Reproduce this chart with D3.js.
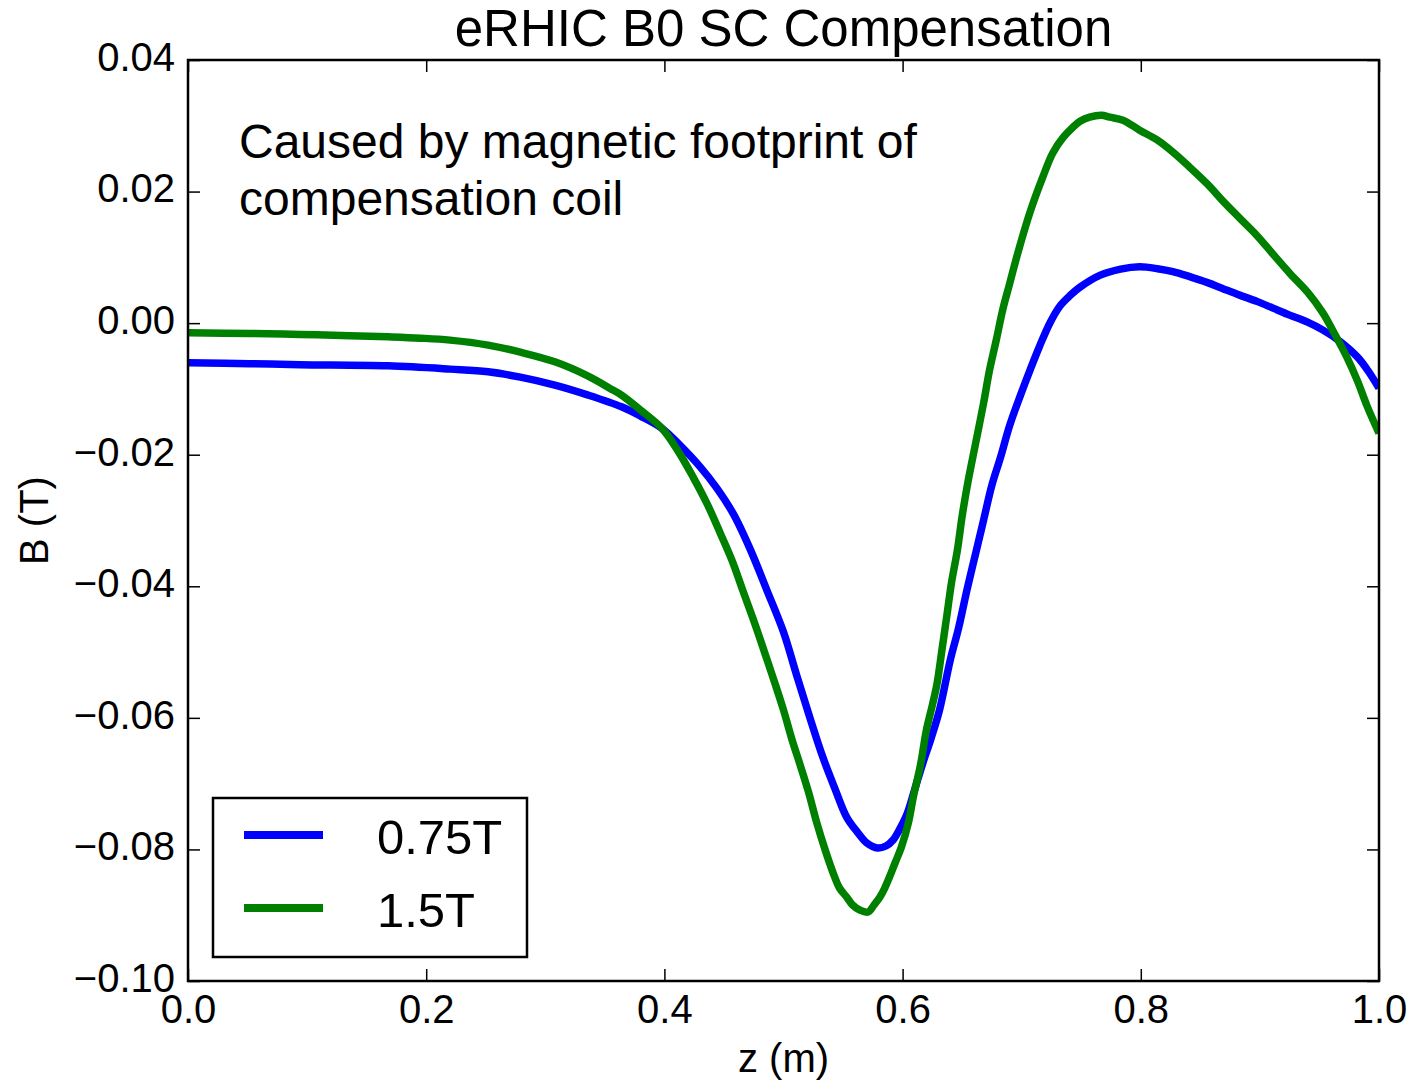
<!DOCTYPE html>
<html>
<head>
<meta charset="utf-8">
<script src="https://cdn.jsdelivr.net/npm/d3@7"></script>
<style>
  html, body { margin: 0; padding: 0; background: #fff; }
  svg { display: block; font-family: "Liberation Sans", Arial, sans-serif; }
</style>
</head>
<body>
<svg id="chart" width="1409" height="1081"></svg>
<script>
// ---- data ----
const chartTitle = "eRHIC B0 SC Compensation";
const xLabel = "z (m)";
const yLabel = "B (T)";
const annotationLines = ["Caused by magnetic footprint of", "compensation coil"];
const seriesNames = ["0.75T", "1.5T"];
const seriesColors = ["#0000ff", "#008000"];
const xTickValues = [0.0, 0.2, 0.4, 0.6, 0.8, 1.0];
const yTickValues = [-0.10, -0.08, -0.06, -0.04, -0.02, 0.00, 0.02, 0.04];

const zBlue = [0.000, 0.052, 0.094, 0.168, 0.220, 0.252, 0.279, 0.308, 0.336, 0.364,
  0.380, 0.398, 0.413, 0.430, 0.444, 0.458, 0.472, 0.486, 0.500, 0.511,
  0.522, 0.533, 0.543, 0.553, 0.562, 0.570, 0.579, 0.586, 0.592, 0.598,
  0.604, 0.610, 0.617, 0.624, 0.631, 0.640, 0.647, 0.654, 0.661, 0.668,
  0.675, 0.682, 0.690, 0.699, 0.707, 0.715, 0.724, 0.732, 0.741, 0.749,
  0.766, 0.783, 0.799, 0.814, 0.827, 0.841, 0.856, 0.869, 0.883, 0.898,
  0.911, 0.925, 0.940, 0.953, 0.967, 0.982, 0.991, 1.000];
const bBlue = [-0.00603, -0.00616, -0.00631, -0.00649, -0.00699, -0.00740, -0.00821, -0.00942, -0.01094, -0.01272,
  -0.01413, -0.01600, -0.01854, -0.02184, -0.02508, -0.02903, -0.03435, -0.04058, -0.04696, -0.05350,
  -0.05988, -0.06596, -0.07067, -0.07508, -0.07736, -0.07903, -0.07979, -0.07948, -0.07857, -0.07675,
  -0.07447, -0.07097, -0.06687, -0.06307, -0.05881, -0.05122, -0.04635, -0.04058, -0.03526, -0.02994,
  -0.02462, -0.02052, -0.01550, -0.01094, -0.00714, -0.00350, 0.00015, 0.00258, 0.00426, 0.00547,
  0.00729, 0.00821, 0.00856, 0.00828, 0.00783, 0.00707, 0.00616, 0.00524, 0.00426, 0.00327,
  0.00228, 0.00122, 0.00015, -0.00106, -0.00274, -0.00517, -0.00729, -0.00988];

const zGreen = [0.000, 0.052, 0.094, 0.136, 0.168, 0.195, 0.220, 0.252, 0.279, 0.308,
  0.336, 0.354, 0.364, 0.380, 0.398, 0.411, 0.424, 0.436, 0.447, 0.457,
  0.466, 0.476, 0.486, 0.493, 0.500, 0.507, 0.514, 0.521, 0.528, 0.535,
  0.542, 0.547, 0.553, 0.558, 0.564, 0.571, 0.576, 0.581, 0.585, 0.589,
  0.594, 0.599, 0.605, 0.609, 0.615, 0.620, 0.625, 0.629, 0.633, 0.637,
  0.641, 0.646, 0.650, 0.655, 0.661, 0.668, 0.673, 0.679, 0.684, 0.690,
  0.696, 0.707, 0.718, 0.726, 0.735, 0.743, 0.749, 0.757, 0.767, 0.774,
  0.785, 0.799, 0.814, 0.827, 0.841, 0.856, 0.869, 0.883, 0.898, 0.911,
  0.925, 0.940, 0.953, 0.961, 0.973, 0.982, 0.990, 1.000];
const bGreen = [-0.00147, -0.00157, -0.00172, -0.00190, -0.00208, -0.00228, -0.00258, -0.00334, -0.00441, -0.00588,
  -0.00805, -0.00988, -0.01094, -0.01322, -0.01600, -0.01930, -0.02336, -0.02751, -0.03196, -0.03617,
  -0.04073, -0.04574, -0.05106, -0.05486, -0.05881, -0.06322, -0.06717, -0.07128, -0.07599, -0.08009,
  -0.08374, -0.08587, -0.08723, -0.08845, -0.08921, -0.08951, -0.08845, -0.08723, -0.08587, -0.08419,
  -0.08191, -0.07964, -0.07584, -0.07204, -0.06717, -0.06185, -0.05805, -0.05471, -0.04970, -0.04468,
  -0.03951, -0.03450, -0.02933, -0.02401, -0.01854, -0.01216, -0.00714, -0.00228, 0.00198, 0.00608,
  0.01018, 0.01687, 0.02234, 0.02584, 0.02827, 0.02979, 0.03070, 0.03131, 0.03161, 0.03131,
  0.03085, 0.02933, 0.02781, 0.02599, 0.02371, 0.02112, 0.01854, 0.01596, 0.01322, 0.01049,
  0.00760, 0.00471, 0.00152, -0.00106, -0.00517, -0.00881, -0.01261, -0.01672];

// ---- layout ----
const plot = { left: 188, top: 60, right: 1379, bottom: 981 };
const svg = d3.select("#chart");

const x = d3.scaleLinear().domain([0, 1]).range([plot.left, plot.right]);
const y = d3.scaleLinear().domain([-0.10, 0.04]).range([plot.bottom, plot.top]);

const fmtY = v => d3.format(".2f")(v).replace("-", "\u2212");
const fmtX = v => d3.format(".1f")(v);

svg.append("defs").append("clipPath").attr("id", "clip")
  .append("rect")
  .attr("x", plot.left).attr("y", plot.top)
  .attr("width", plot.right - plot.left).attr("height", plot.bottom - plot.top);

// series lines
const series = [
  { name: seriesNames[0], color: seriesColors[0], z: zBlue, b: bBlue },
  { name: seriesNames[1], color: seriesColors[1], z: zGreen, b: bGreen }
];
const line = d3.line().x(d => x(d[0])).y(d => y(d[1])).curve(d3.curveCatmullRom.alpha(0.5));
const gLines = svg.append("g").attr("clip-path", "url(#clip)");
series.forEach(s => {
  gLines.append("path")
    .datum(d3.zip(s.z, s.b))
    .attr("fill", "none")
    .attr("stroke", s.color)
    .attr("stroke-width", 7.5)
    .attr("stroke-linejoin", "round")
    .attr("stroke-linecap", "butt")
    .attr("d", line);
});

// axes (inward ticks on all sides)
const tickLen = 12;
const axB = d3.axisBottom(x).tickValues(xTickValues).tickSizeInner(-tickLen).tickSizeOuter(0).tickFormat(fmtX).tickPadding(14);
const axT = d3.axisTop(x).tickValues(xTickValues).tickSizeInner(-tickLen).tickSizeOuter(0).tickFormat("");
const axL = d3.axisLeft(y).tickValues(yTickValues).tickSizeInner(-tickLen).tickSizeOuter(0).tickFormat(fmtY).tickPadding(13);
const axR = d3.axisRight(y).tickValues(yTickValues).tickSizeInner(-tickLen).tickSizeOuter(0).tickFormat("");

function styleAxis(g) {
  g.select(".domain").remove();
  g.selectAll(".tick line").attr("stroke", "#000").attr("stroke-width", 1.5);
  g.selectAll(".tick text")
    .attr("fill", "#000")
    .style("font-family", "'Liberation Sans', Arial, sans-serif")
    .style("font-size", "40px");
}
svg.append("g").attr("transform", `translate(0,${plot.bottom})`).call(axB).call(styleAxis)
  .selectAll(".tick text").attr("dy", "0.71em");
svg.append("g").attr("transform", `translate(0,${plot.top})`).call(axT).call(styleAxis);
svg.append("g").attr("transform", `translate(${plot.left},0)`).call(axL).call(styleAxis)
  .selectAll(".tick text").attr("dy", "0.26em");
svg.append("g").attr("transform", `translate(${plot.right},0)`).call(axR).call(styleAxis);

// frame
svg.append("rect")
  .attr("x", plot.left).attr("y", plot.top)
  .attr("width", plot.right - plot.left).attr("height", plot.bottom - plot.top)
  .attr("fill", "none").attr("stroke", "#000").attr("stroke-width", 2.5);

// title
svg.append("text")
  .attr("x", (plot.left + plot.right) / 2).attr("y", 46)
  .attr("text-anchor", "middle")
  .style("font-size", "51px")
  .text(chartTitle);

// axis labels
svg.append("text")
  .attr("x", (plot.left + plot.right) / 2).attr("y", 1072)
  .attr("text-anchor", "middle")
  .style("font-size", "40px")
  .text(xLabel);
svg.append("text")
  .attr("transform", `translate(48,${(plot.top + plot.bottom) / 2}) rotate(-90)`)
  .attr("text-anchor", "middle")
  .style("font-size", "40px")
  .text(yLabel);

// annotation
const ann = svg.append("text").style("font-size", "48px");
annotationLines.forEach((t, i) => {
  ann.append("tspan").attr("x", 239).attr("y", 158 + i * 57).text(t);
});

// legend
const leg = svg.append("g");
leg.append("rect")
  .attr("x", 213).attr("y", 798).attr("width", 314).attr("height", 159)
  .attr("fill", "#fff").attr("stroke", "#000").attr("stroke-width", 2.5);
series.forEach((s, i) => {
  const ly = 835 + i * 73;
  leg.append("line")
    .attr("x1", 244).attr("x2", 323).attr("y1", ly).attr("y2", ly)
    .attr("stroke", s.color).attr("stroke-width", 8);
  leg.append("text")
    .attr("x", 377).attr("y", ly + 19)
    .style("font-size", "49px")
    .text(s.name);
});
</script>
</body>
</html>
